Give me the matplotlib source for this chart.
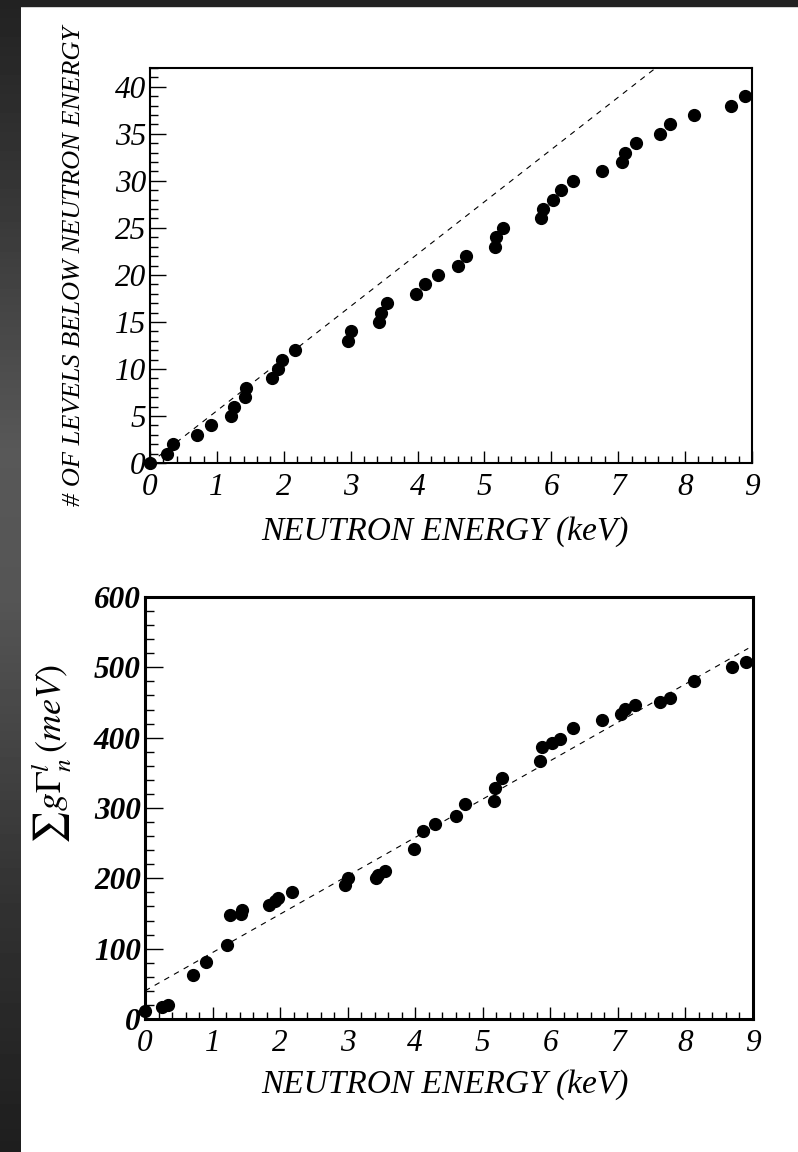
import numpy as np
import matplotlib
matplotlib.use('Agg')
import matplotlib.pyplot as plt
from matplotlib.ticker import MultipleLocator
from matplotlib.patches import Rectangle

plt.rcParams['font.family'] = ['Liberation Serif', 'DejaVu Serif']
plt.rcParams['mathtext.fontset'] = 'stix'

# ── data ────────────────────────────────────────────────
energy = [0.00, 0.25, 0.34, 0.71, 0.91, 1.21, 1.26, 1.42, 1.43, 1.83,
          1.92, 1.97, 2.17, 2.96, 3.00, 3.42, 3.45, 3.55, 3.98, 4.11,
          4.30, 4.61, 4.73, 5.16, 5.18, 5.28, 5.85, 5.87, 6.03, 6.14,
          6.33, 6.76, 7.05, 7.10, 7.26, 7.62, 7.77, 8.13, 8.69, 8.89]
n_levels = [0, 1, 2, 3, 4, 5, 6, 7, 8, 9,
            10, 11, 12, 13, 14, 15, 16, 17, 18, 19,
            20, 21, 22, 23, 24, 25, 26, 27, 28, 29,
            30, 31, 32, 33, 34, 35, 36, 37, 38, 39]
sum_width = [12, 17, 20, 62, 81, 105, 148, 150, 155, 162,
             168, 172, 180, 191, 200, 201, 205, 211, 241, 267,
             277, 289, 306, 310, 329, 342, 367, 387, 393, 398,
             414, 425, 434, 441, 447, 451, 457, 481, 500, 508]

# dashed reference lines
level_fit_x = [0.0, 9.0]
level_fit_y = [0.0, 50.0]      # slope ~5.56 levels/keV
width_fit_x = [0.0, 8.93]
width_fit_y = [40.0, 527.0]

W, H = 798, 1152
fig = plt.figure(figsize=(W / 100, H / 100), dpi=100, facecolor='white')

# dark frame on the left / top
band = fig.add_axes([0, 0, 21 / W, 1])
prof_y = [0, 200, 450, 600, 900, 1152]
prof_v = [34, 55, 88, 85, 50, 30]
g = np.interp(np.arange(H), prof_y, prof_v)[:, None] / 255.0
band.imshow(np.repeat(g, 2, axis=1), cmap='gray', vmin=0, vmax=1, aspect='auto')
band.set_axis_off()
fig.patches.append(Rectangle((0, 1 - 6 / H), 1, 6 / H, transform=fig.transFigure,
                             color='#222222', zorder=0))

ital = dict(style='italic')


def style_axes(ax, ymax, ymaj, ymin, spine_w, ylen, ywt):
    ax.set_xlim(0, 9)
    ax.set_ylim(0, ymax)
    for s in ax.spines.values():
        s.set_linewidth(spine_w)
    ax.xaxis.set_major_locator(MultipleLocator(1))
    ax.xaxis.set_minor_locator(MultipleLocator(0.2))
    ax.yaxis.set_major_locator(MultipleLocator(ymaj))
    ax.yaxis.set_minor_locator(MultipleLocator(ymin))
    ax.tick_params(axis='x', which='major', direction='in', length=9, width=1.0, pad=7)
    ax.tick_params(axis='x', which='minor', direction='in', length=4.8, width=1.0)
    ax.tick_params(axis='y', which='major', direction='in', length=ylen, width=1.0, pad=3)
    ax.tick_params(axis='y', which='minor', direction='in', length=ylen / 2, width=1.0)
    for lab in ax.get_xticklabels():
        lab.set_fontsize(22.5)
        lab.set_style('italic')
    for lab in ax.get_yticklabels():
        lab.set_fontsize(22.5)
        lab.set_style('italic')
        lab.set_fontweight(ywt)


# ── top panel: cumulative number of levels ──────────────
ax1 = fig.add_axes([150 / W, 1 - 463 / H, 602 / W, 395 / H])
ax1.plot(level_fit_x, level_fit_y, color='black', lw=0.8, ls=(0, (5, 5)))
ax1.plot(energy, n_levels, 'o', color='black', ms=8.5, clip_on=False)
style_axes(ax1, 42, 5, 1, 1.5, 11.3, 'normal')
ax1.set_xlabel('NEUTRON ENERGY (keV)', fontsize=24, va='center', **ital)
ax1.xaxis.set_label_coords((445 - 150) / 602, (463 - 532) / 395)
fig.text(74 / W, 1 - 266 / H, '# OF LEVELS BELOW NEUTRON ENERGY', rotation=90,
         ha='center', va='center', fontsize=19, **ital)

# ── bottom panel: cumulative reduced neutron width ──────
ax2 = fig.add_axes([145 / W, 1 - 1019 / H, 608 / W, 422 / H])
ax2.plot(width_fit_x, width_fit_y, color='black', lw=0.8, ls=(0, (5, 5)))
ax2.plot(energy, sum_width, 'o', color='black', ms=8.5, clip_on=False)
style_axes(ax2, 600, 100, 20, 2.2, 13, 'bold')
ax2.set_xlabel('NEUTRON ENERGY (keV)', fontsize=24, va='center', **ital)
ax2.xaxis.set_label_coords((445 - 145) / 608, (1019 - 1085) / 422)
fig.text(52 / W, 1 - 754 / H, r'$\sum g\Gamma_{n}^{l}\,(meV)$', rotation=90,
         ha='center', va='center', fontsize=26)

fig.savefig('out.png', dpi=100, facecolor='white')
